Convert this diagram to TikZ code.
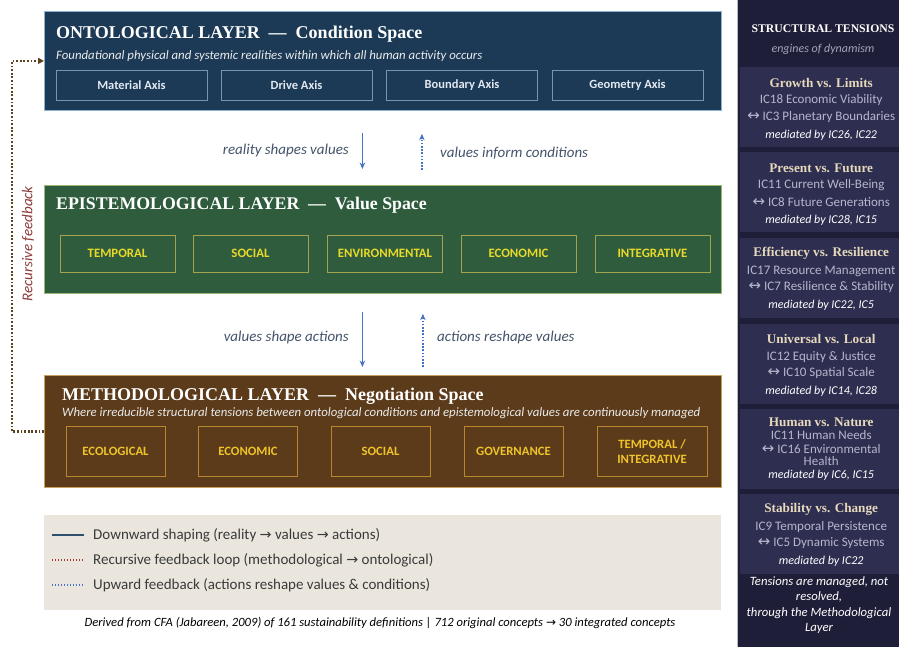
\documentclass[tikz,border=0pt]{standalone}
\usepackage{fontspec}
\setmainfont{Carlito}
\newfontfamily\titleserif{Liberation Serif}
\newfontfamily\symfont{DejaVu Sans}
\usetikzlibrary{arrows.meta,calc}

\definecolor{ontofill}{HTML}{1C3A56}
\definecolor{ontoline}{HTML}{8FB2D4}
\definecolor{axisline}{HTML}{7893AE}
\definecolor{axistext}{HTML}{E2E9F1}
\definecolor{epifill}{HTML}{2E5C3C}
\definecolor{epiline}{HTML}{9DB77A}
\definecolor{epibox}{HTML}{A0A450}
\definecolor{epitext}{HTML}{E9D92A}
\definecolor{methfill}{HTML}{5C3B1A}
\definecolor{methline}{HTML}{C8A060}
\definecolor{methbox}{HTML}{B8862E}
\definecolor{methtext}{HTML}{EEC42A}
\definecolor{arrowblue}{HTML}{4472C4}
\definecolor{labelslate}{HTML}{44546A}
\definecolor{fbbrown}{HTML}{5E4220}
\definecolor{fbtext}{HTML}{8E3A3A}
\definecolor{legendbg}{HTML}{EAE6DD}
\definecolor{legendnavy}{HTML}{2F4F6F}
\definecolor{legendred}{HTML}{B03A3A}
\definecolor{legendtext}{HTML}{3A3A3A}
\definecolor{panelbg}{HTML}{1E1E38}
\definecolor{cardbg}{HTML}{2E2E50}
\definecolor{cardtitle}{HTML}{E6D9BC}
\definecolor{cardline}{HTML}{B6B6CE}
\definecolor{panelsub}{HTML}{A4A4BC}

\newcommand{\myrarrow}{{\symfont\scalebox{0.95}{→}}}
\newcommand{\mylrarrow}{{\symfont\scalebox{1.15}{↔}}}

% one tension card: name, top edge, title, first pole, second pole, mediators
\newcommand{\tensioncard}[6]{%
  \node[card] (#1) at (740,#2) {};
  \node[ctitle] (#1-t) at ([xshift=-1pt,yshift=-16pt]#1.north) {#3};
  \node[cline]  (#1-a) at ([xshift=-1pt,yshift=-33.5pt]#1.north) {#4};
  \node[cline]  (#1-b) at ([xshift=-1pt,yshift=-50pt]#1.north) {#5};
  \node[cmed]   (#1-m) at ([xshift=-1pt,yshift=-68pt]#1.north) {#6};
}

\begin{document}
\begin{tikzpicture}[x=1pt,y=-1pt,
  layer/.style={draw, line width=0.8pt, minimum width=677pt, inner sep=0pt, anchor=north west},
  ltitle/.style={anchor=base west, text=white, inner sep=0pt,
    font=\titleserif\bfseries\fontsize{18}{20}\selectfont},
  lsub/.style={anchor=base west, text=white!92!black, inner sep=0pt,
    font=\itshape\fontsize{12.8}{14}\selectfont},
  axisbox/.style={draw=axisline, line width=0.6pt, minimum width=151pt, minimum height=30pt,
    inner sep=0pt, text=axistext, font=\bfseries\fontsize{12.5}{14}\selectfont},
  epibox/.style={draw=epibox, line width=0.6pt, minimum width=115pt, minimum height=37pt,
    inner sep=0pt, text=epitext, font=\bfseries\fontsize{12.8}{14}\selectfont},
  methbox/.style={draw=methbox, line width=0.6pt, minimum width=99pt, minimum height=50pt,
    inner sep=0pt, text=methtext, align=center, font=\bfseries\fontsize{12.7}{15.5}\selectfont},
  downarrow/.style={draw=arrowblue, line width=1.6pt, -{Stealth[length=6.5pt,width=5.5pt]}},
  uparrow/.style={draw=arrowblue, line width=1.6pt, dash pattern=on 1.6pt off 1.6pt,
    -{Stealth[length=6.5pt,width=5.5pt]}},
  flowlabel/.style={text=labelslate, inner sep=0pt, font=\itshape\fontsize{15}{17}\selectfont},
  fbline/.style={draw=fbbrown, line width=2.2pt, dash pattern=on 1.8pt off 1.8pt,
    -{Triangle[length=6pt,width=6pt]}},
  legendtxt/.style={anchor=west, inner sep=0pt, text=legendtext, font=\fontsize{15}{17}\selectfont},
  card/.style={anchor=north west, fill=cardbg, minimum width=164pt, minimum height=80pt, inner sep=0pt},
  ctitle/.style={text=cardtitle, inner sep=0pt, font=\titleserif\bfseries\fontsize{13.2}{15}\selectfont},
  cline/.style={text=cardline, inner sep=0pt, font=\fontsize{13}{15}\selectfont},
  cmed/.style={text=white, inner sep=0pt, font=\itshape\fontsize{12}{14}\selectfont},
  ]
\useasboundingbox (0,0) rectangle (899,647);
\fill[white] (0,0) rectangle (899,647);

% ---------- ontological layer ----------
\node[layer, fill=ontofill, draw=ontoline, minimum height=99pt] (onto) at (44,11) {};
\node[ltitle] (onto-title) at (56,39) {ONTOLOGICAL LAYER\ \ —\ \ Condition Space};
\node[lsub] (onto-sub) at (56,59.5) {Foundational physical and systemic realities within which all human activity occurs};
\node[axisbox] (ax1) at (131.5,85) {Material Axis};
\node[axisbox] (ax2) at (296.5,85) {Drive Axis};
\node[axisbox] (ax3) at (462,85) {Boundary Axis};
\node[axisbox] (ax4) at (627.5,85) {Geometry Axis};

% ---------- epistemological layer ----------
\node[layer, fill=epifill, draw=epiline, minimum height=108pt] (epi) at (44,185) {};
\node[ltitle, font=\titleserif\bfseries\fontsize{17.8}{20}\selectfont] (epi-title) at (56,209) {EPISTEMOLOGICAL LAYER\ \ —\ \ Value Space};
\node[epibox] (v1) at (117.5,253.5) {TEMPORAL};
\node[epibox] (v2) at (250.5,253.5) {SOCIAL};
\node[epibox] (v3) at (385,253.5) {ENVIRONMENTAL};
\node[epibox] (v4) at (518.5,253.5) {ECONOMIC};
\node[epibox] (v5) at (652.5,253.5) {INTEGRATIVE};

% ---------- methodological layer ----------
\node[layer, fill=methfill, draw=methline, minimum height=112pt] (meth) at (44,375) {};
\node[ltitle] (meth-title) at (62,400) {METHODOLOGICAL LAYER\ \ —\ \ Negotiation Space};
\node[lsub] (meth-sub) at (62,416) {Where irreducible structural tensions between ontological conditions and epistemological values are continuously managed};
\node[methbox] (m1) at (115.5,451.5) {ECOLOGICAL};
\node[methbox] (m2) at (248,451.5) {ECONOMIC};
\node[methbox] (m3) at (380.5,451.5) {SOCIAL};
\node[methbox] (m4) at (513.5,451.5) {GOVERNANCE};
\node[methbox, minimum width=110pt] (m5) at (652,451.5) {TEMPORAL /\\INTEGRATIVE};

% ---------- flows between layers ----------
\draw[downarrow] ([xshift=-20.5pt,yshift=-22pt]onto.south) -- ([xshift=-20.5pt,yshift=16pt]epi.north);
\draw[uparrow] ([xshift=39pt,yshift=15pt]epi.north) -- ([xshift=39pt,yshift=-23pt]onto.south);
\node[flowlabel, anchor=east] (f1) at (349,151) {reality shapes values};
\node[flowlabel, anchor=west] (f2) at (440,153) {values inform conditions};

\draw[downarrow] ([xshift=-20.5pt,yshift=-18pt]epi.south) -- ([xshift=-20.5pt,yshift=8pt]meth.north);
\draw[uparrow] ([xshift=40pt,yshift=8pt]meth.north) -- ([xshift=40pt,yshift=-20pt]epi.south);
\node[flowlabel, anchor=east] (f3) at (349,337) {values shape actions};
\node[flowlabel, anchor=west] (f4) at (437,337) {actions reshape values};

% ---------- recursive feedback loop ----------
\draw[fbline] (meth.west) -- ++(-32,0) |- (onto.west);
\node[rotate=90, text=fbtext, inner sep=0pt, font=\itshape\fontsize{15}{17}\selectfont] (fb-label) at (28,244) {Recursive feedback};

% ---------- legend ----------
\node[anchor=north west, fill=legendbg, minimum width=677pt, minimum height=95pt, inner sep=0pt] (legend) at (44,515) {};
\draw[legendnavy, line width=2pt] (52,535) -- (84,535);
\draw[legendred, line width=1.8pt, dash pattern=on 1.4pt off 1.6pt] (52,560) -- (84,560);
\draw[arrowblue, line width=1.8pt, dash pattern=on 1.4pt off 1.6pt] (52,585) -- (84,585);
\node[legendtxt] (lg1) at (93,535) {Downward shaping (reality \myrarrow{} values \myrarrow{} actions)};
\node[legendtxt] (lg2) at (93,560) {Recursive feedback loop (methodological \myrarrow{} ontological)};
\node[legendtxt] (lg3) at (93,585) {Upward feedback (actions reshape values \& conditions)};

\node[inner sep=0pt, text=black, font=\itshape\fontsize{12.6}{14}\selectfont] (source) at (380,623)
  {Derived from CFA (Jabareen, 2009) of 161 sustainability definitions | 712 original concepts \myrarrow{} 30 integrated concepts};

% ---------- structural tensions panel ----------
\fill[panelbg] (737,0) rectangle (899,647);
\draw[gray!55, line width=0.8pt] (737,0) -- (737,647);
\node[inner sep=0pt, text=white, font=\titleserif\bfseries\fontsize{11.7}{14}\selectfont] (st-head) at (823,29) {STRUCTURAL TENSIONS};
\node[inner sep=0pt, text=panelsub, font=\itshape\fontsize{12}{13}\selectfont] (st-sub) at (823,49) {engines of dynamism};

\tensioncard{t1}{67}{Growth vs. Limits}{IC18 Economic Viability}{\mylrarrow{} IC3 Planetary Boundaries}{mediated by IC26, IC22}
\tensioncard{t2}{152}{Present vs. Future}{IC11 Current Well-Being}{\mylrarrow{} IC8 Future Generations}{mediated by IC28, IC15}
\tensioncard{t3}{237.5}{Efficiency vs. Resilience}{IC17 Resource Management}{\mylrarrow{} IC7 Resilience \& Stability}{mediated by IC22, IC5}
\tensioncard{t4}{323.5}{Universal vs. Local}{IC12 Equity \& Justice}{\mylrarrow{} IC10 Spatial Scale}{mediated by IC14, IC28}

% the fifth card wraps its second pole onto two lines
\node[card] (t5) at (740,408.5) {};
\node[ctitle] (t5-t) at ([xshift=-1pt,yshift=-14pt]t5.north) {Human vs. Nature};
\node[cline]  (t5-a) at ([xshift=-1pt,yshift=-27pt]t5.north) {IC11 Human Needs};
\node[cline]  (t5-b) at ([xshift=-1pt,yshift=-40.5pt]t5.north) {\mylrarrow{} IC16 Environmental};
\node[cline]  (t5-c) at ([xshift=-1pt,yshift=-53pt]t5.north) {Health};
\node[cmed]   (t5-m) at ([xshift=-1pt,yshift=-67pt]t5.north) {mediated by IC6, IC15};

\tensioncard{t6}{493.5}{Stability vs. Change}{IC9 Temporal Persistence}{\mylrarrow{} IC5 Dynamic Systems}{mediated by IC22}

\node[inner sep=0pt, text=white, align=center, font=\itshape\fontsize{12.7}{15.5}\selectfont] (st-note) at (819,605)
  {Tensions are managed, not\\resolved,\\through the Methodological\\Layer};
\end{tikzpicture}
\end{document}
